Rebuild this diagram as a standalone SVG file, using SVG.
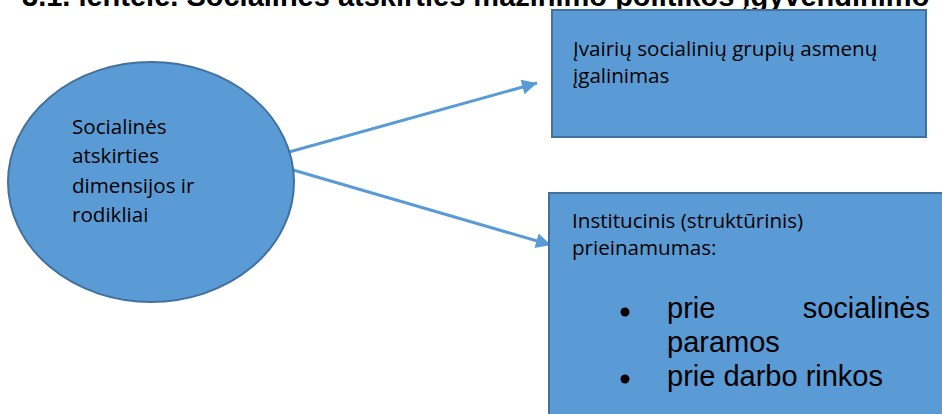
<svg xmlns="http://www.w3.org/2000/svg" width="942" height="414" viewBox="0 0 942 414">
<style>
.shape{fill:#5B9BD5;stroke:#41719C;stroke-width:2}
.t{font-family:"Open Sans","Noto Sans",sans-serif;font-size:20.6px;fill:#000}
.b{font-family:"Liberation Sans",Arial,sans-serif;font-size:29px;fill:#000}
.title{font-family:"Liberation Sans",Arial,sans-serif;font-size:29px;font-weight:bold;fill:#000}
.conn{stroke:#5B9BD5;stroke-width:3;fill:none}
</style>
<defs>
<marker id="arr" viewBox="0 0 10 10" refX="10" refY="5" markerWidth="5.5" markerHeight="5" orient="auto" markerUnits="strokeWidth">
<path d="M0,0 L10,5 L0,10 z" fill="#5B9BD5"/>
</marker>
</defs>
<rect width="942" height="414" fill="#fff"/>
<text class="title" x="22" y="6">3.1. lentelė. Socialinės atskirties mažinimo politikos įgyvendinimo</text>
<g id="connectors">
<line class="conn" x1="289" y1="152" x2="537" y2="83" marker-end="url(#arr)"/>
<line class="conn" x1="293" y1="170" x2="551" y2="245" marker-end="url(#arr)"/>
</g>
<g id="node-ellipse">
<ellipse class="shape" cx="151" cy="182" rx="143" ry="120"/>
<text class="t" x="72" y="134">Socialinės</text>
<text class="t" x="72" y="163">atskirties</text>
<text class="t" x="72" y="193">dimensijos ir</text>
<text class="t" x="72" y="222">rodikliai</text>
</g>
<g id="node-top">
<rect class="shape" x="552" y="10" width="374" height="127"/>
<text class="t" x="573" y="56">Įvairių socialinių grupių asmenų</text>
<text class="t" x="573" y="83">įgalinimas</text>
</g>
<g id="node-bottom">
<rect class="shape" x="549" y="193" width="400" height="230"/>
<text class="t" x="572" y="228">Institucinis (struktūrinis)</text>
<text class="t" x="572" y="255">prieinamumas:</text>
<circle cx="625" cy="312" r="4.5" fill="#000"/>
<text class="b" x="667" y="318">prie</text>
<text class="b" x="930" y="318" text-anchor="end">socialinės</text>
<text class="b" x="667" y="352">paramos</text>
<circle cx="625" cy="379" r="4.5" fill="#000"/>
<text class="b" x="667" y="386">prie darbo rinkos</text>
</g>
</svg>
